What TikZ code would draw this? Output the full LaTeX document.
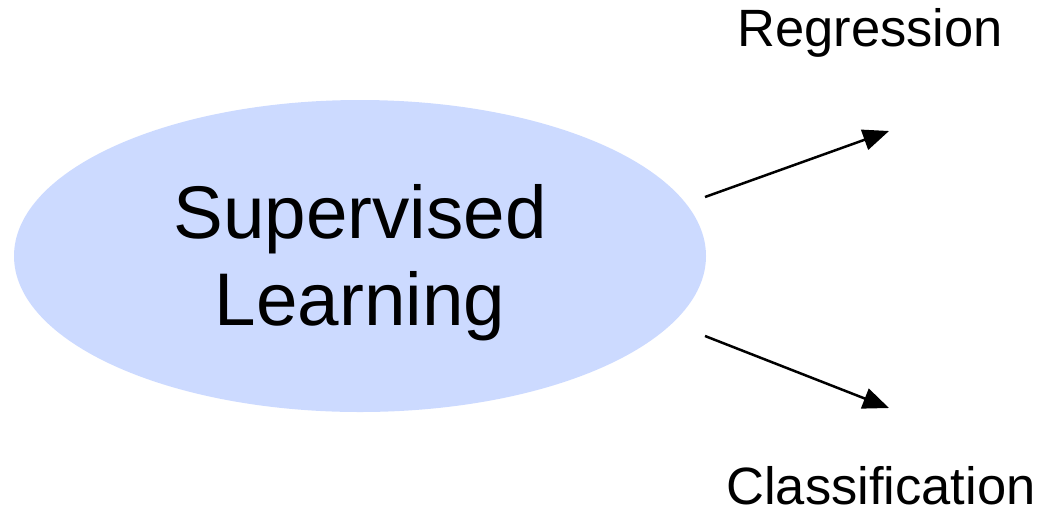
\documentclass[tikz,border=0pt]{standalone}
\usepackage{fontspec}
\setmainfont{Liberation Sans}
\usetikzlibrary{arrows.meta,shapes.geometric}
\definecolor{blobblue}{HTML}{CCDAFF}
\tikzset{
  blob/.style={ellipse, fill=blobblue, minimum width=692pt, minimum height=312pt, inner sep=0pt},
  blobtext/.style={align=center, inner sep=0pt, font=\fontsize{74.6}{87}\selectfont},
  branch/.style={font=\fontsize{52.5}{60}\selectfont, inner sep=0pt},
  flow/.style={line width=2.5pt, -{Triangle[length=26pt,width=21pt]}}
}
\begin{document}
\begin{tikzpicture}[x=1pt,y=-1pt]
  \useasboundingbox (0,0) rectangle (1043,512);
  \node[blob] (sl) at (360,256) {};
  \node[blobtext] (sltext) at (360,263) {Supervised\\Learning};
  \node[branch] (reg) at (870,33) {Regression};
  \node[branch] (cls) at (881,486) {Classification};
  \coordinate (up) at (705,197);
  \coordinate (upend) at (889,131);
  \coordinate (dn) at (705,336);
  \coordinate (dnend) at (889,408);
  \draw[flow] (up) -- (upend);
  \draw[flow] (dn) -- (dnend);
\end{tikzpicture}
\end{document}
